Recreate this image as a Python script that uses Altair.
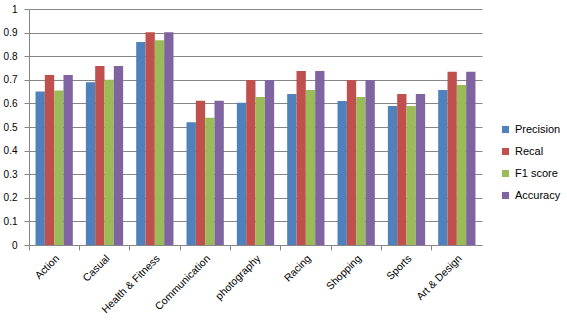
import altair as alt
import pandas as pd

categories = ["Action", "Casual", "Health & Fitness", "Communication", "photography",
              "Racing", "Shopping", "Sports", "Art & Design"]
series = ["Precision", "Recal", "F1 score", "Accuracy"]
precision = [0.650, 0.690, 0.860, 0.520, 0.603, 0.640, 0.610, 0.589, 0.657]
recal     = [0.720, 0.758, 0.902, 0.611, 0.699, 0.737, 0.699, 0.640, 0.734]
f1        = [0.655, 0.700, 0.868, 0.539, 0.627, 0.657, 0.627, 0.589, 0.678]
accuracy  = [0.720, 0.758, 0.902, 0.611, 0.699, 0.737, 0.699, 0.640, 0.734]
colors = ["#4F81BD", "#C0504D", "#9BBB59", "#8064A2"]
y_ticks = [0, 0.1, 0.2, 0.3, 0.4, 0.5, 0.6, 0.7, 0.8, 0.9, 1]

rows = []
for name, vals in zip(series, [precision, recal, f1, accuracy]):
    for c, v in zip(categories, vals):
        rows.append({"Category": c, "Series": name, "Value": v})
df = pd.DataFrame(rows)

font = "Liberation Sans"

chart = alt.Chart(df).mark_bar().encode(
    x=alt.X("Category:N", sort=categories, title=None,
            scale=alt.Scale(paddingInner=0, paddingOuter=0),
            axis=alt.Axis(labelAngle=-45, labelFontSize=10.5, labelFont=font,
                          labelColor="#000000", domainColor="#868686",
                          tickColor="#868686", tickSize=5, bandPosition=0,
                          labelPadding=3, grid=False)),
    xOffset=alt.XOffset("Series:N", sort=series,
                        scale=alt.Scale(paddingInner=0, paddingOuter=0.7)),
    y=alt.Y("Value:Q", title=None,
            scale=alt.Scale(domain=[0, 1], nice=False),
            axis=alt.Axis(values=y_ticks, format="~g", labelFontSize=10, labelFont=font,
                          labelColor="#000000", domainColor="#868686",
                          tickColor="#868686", tickSize=5, labelPadding=7,
                          gridColor="#868686", gridWidth=1)),
    color=alt.Color("Series:N", sort=series,
                    scale=alt.Scale(domain=series, range=colors),
                    legend=alt.Legend(title=None, orient="none", legendX=471, legendY=115,
                                      symbolType="square", symbolSize=50,
                                      symbolStrokeWidth=0,
                                      labelFontSize=11, labelFont=font,
                                      labelColor="#000000", rowPadding=10)),
).properties(
    width=453, height=236,
    autosize="none",
    padding={"left": 29, "top": 9, "right": 85, "bottom": 79},
).configure_view(stroke=None).configure_axis(labelOverlap=False)

chart.save("out.html", embed_options={"renderer": "svg", "actions": False})
